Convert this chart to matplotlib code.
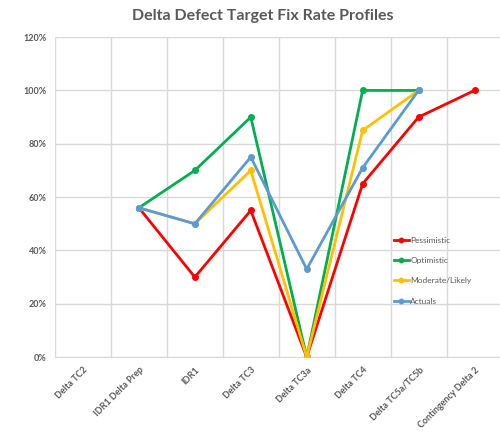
import numpy as np
import matplotlib
matplotlib.use("Agg")
import matplotlib.pyplot as plt
from matplotlib.ticker import PercentFormatter

categories = ["Delta TC2", "IDR1 Delta Prep", "IDR1", "Delta TC3", "Delta TC3a",
              "Delta TC4", "Delta TC5a/TC5b", "Contingency Delta 2"]
pessimistic = [np.nan, 56, 30, 55, 0, 65, 90, 100]
optimistic = [np.nan, 56, 70, 90, 0, 100, 100, np.nan]
moderate = [np.nan, 56, 50, 70, 0, 85, 100, np.nan]
actuals = [np.nan, 56, 50, 75, 33, 71, 100, np.nan]

series = [("Pessimistic", pessimistic, "#FF0000"),
          ("Optimistic", optimistic, "#00B050"),
          ("Moderate/Likely", moderate, "#FFC000"),
          ("Actuals", actuals, "#5B9BD5")]

plt.rcParams['font.family'] = ['Lato', 'DejaVu Sans']
grey = "#595959"

fig = plt.figure(figsize=(5, 4.47), dpi=100)
ax = fig.add_axes([0.11, 0.201, 0.895, 0.716])

x = np.arange(len(categories))
for name, vals, col in series:
    ax.plot(x, vals, color=col, lw=2, marker="o", ms=4, label=name, zorder=3)

ax.set_xlim(-0.5, len(categories) - 0.5)
ax.set_ylim(0, 120)
ax.set_yticks(range(0, 121, 20))
ax.yaxis.set_major_formatter(PercentFormatter(decimals=0))
ax.set_xticks(x)
ax.set_xticklabels(categories, rotation=45, ha="right", rotation_mode="anchor")
ax.set_xticks(np.arange(-0.5, len(categories), 1), minor=True)
ax.tick_params(axis="x", which="minor", length=0)
ax.tick_params(axis="both", which="major", length=0, labelsize=6.5, labelcolor=grey, pad=6)
for lab in ax.get_xticklabels() + ax.get_yticklabels():
    lab.set_fontweight("bold")
ax.grid(axis="y", which="major", color="#D9D9D9", lw=1)
ax.grid(axis="x", which="minor", color="#D9D9D9", lw=1)
ax.set_axisbelow(True)
for s in ax.spines.values():
    s.set_visible(False)
ax.spines["bottom"].set_visible(True)
ax.spines["bottom"].set_color("#D9D9D9")

fig.text(0.525, 0.965, "Delta Defect Target Fix Rate Profiles", ha="center", va="center",
         fontsize=11.5, fontweight="bold", color=grey)

leg = ax.legend(loc="center left", bbox_to_anchor=(0.74, 0.27), frameon=False,
                fontsize=6, labelcolor=grey, handlelength=1.8, handletextpad=0.2,
                labelspacing=1.6, markerscale=0.8)

fig.savefig("out.png", dpi=100)
